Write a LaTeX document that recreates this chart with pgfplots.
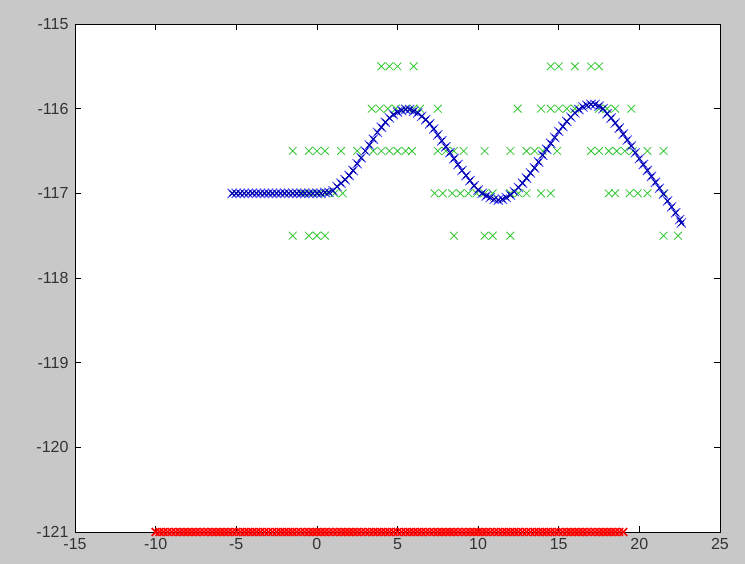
\documentclass[border=0pt]{standalone}
\usepackage{pgfplots}
\pgfplotsset{compat=1.18}
\usepackage{pgfplotstable}
\usepackage{fontspec}
\setmainfont{Liberation Sans}
\usetikzlibrary{backgrounds}
\definecolor{figgray}{RGB}{200,200,200}
\definecolor{mgreen}{RGB}{50,200,50}
\definecolor{lblue}{RGB}{80,80,255}
\definecolor{dblue}{RGB}{0,0,170}

\pgfplotstableread{
x y
-5.25 -117.0
-5.0 -117.0
-4.75 -117.0
-4.5 -117.0
-4.25 -117.0
-4.0 -117.0
-3.75 -117.0
-3.5 -117.0
-3.25 -117.0
-3.0 -117.0
-2.75 -117.0
-2.5 -117.0
-2.25 -117.0
-2.0 -117.0
-1.75 -117.0
-1.5 -117.0
-1.25 -117.0
-1.0 -117.0
-0.75 -117.0
-0.5 -117.0
-0.25 -117.0
0.0 -117.0
0.25 -117.0
0.5 -116.99
0.75 -116.99
1.0 -116.97
1.25 -116.92
1.5 -116.88
1.75 -116.84
2.0 -116.79
2.25 -116.73
2.5 -116.65
2.75 -116.58
3.0 -116.50
3.25 -116.43
3.5 -116.36
3.75 -116.28
4.0 -116.22
4.25 -116.16
4.5 -116.11
4.75 -116.07
5.0 -116.04
5.25 -116.02
5.5 -116.01
5.75 -116.01
6.0 -116.03
6.25 -116.05
6.5 -116.09
6.75 -116.13
7.0 -116.18
7.25 -116.24
7.5 -116.31
7.75 -116.38
8.0 -116.45
8.25 -116.52
8.5 -116.59
8.75 -116.66
9.0 -116.73
9.25 -116.79
9.5 -116.85
9.75 -116.91
10.0 -116.96
10.25 -117.0
10.5 -117.03
10.75 -117.05
11.0 -117.07
11.25 -117.08
11.5 -117.07
11.75 -117.05
12.0 -117.02
12.25 -116.98
12.5 -116.93
12.75 -116.88
13.0 -116.82
13.25 -116.76
13.5 -116.70
13.75 -116.63
14.0 -116.55
14.25 -116.48
14.5 -116.41
14.75 -116.34
15.0 -116.27
15.25 -116.21
15.5 -116.15
15.75 -116.10
16.0 -116.05
16.25 -116.01
16.5 -115.98
16.75 -115.96
17.0 -115.95
17.25 -115.95
17.5 -115.97
17.75 -116.0
18.0 -116.06
18.25 -116.11
18.5 -116.17
18.75 -116.23
19.0 -116.30
19.25 -116.37
19.5 -116.44
19.75 -116.52
20.0 -116.59
20.25 -116.66
20.5 -116.73
20.75 -116.80
21.0 -116.87
21.25 -116.94
21.5 -117.01
21.75 -117.09
22.0 -117.16
22.25 -117.23
22.5 -117.31
22.6 -117.35
}\bluecurve

\pgfplotstableread{
x y
4.0 -115.5
4.5 -115.5
5.0 -115.5
6.0 -115.5
14.5 -115.5
15.0 -115.5
16.0 -115.5
17.0 -115.5
17.5 -115.5
3.4 -116
3.9 -116
4.4 -116
4.9 -116
5.5 -116
6.0 -116
6.4 -116
7.5 -116
12.45 -116
13.9 -116
14.5 -116
15.0 -116
15.5 -116
16.0 -116
17.5 -116
18.0 -116
18.5 -116
19.5 -116
-1.5 -116.5
-0.5 -116.5
0.0 -116.5
0.5 -116.5
1.5 -116.5
2.5 -116.5
3.5 -116.5
4.0 -116.5
4.5 -116.5
5.0 -116.5
5.5 -116.5
5.9 -116.5
7.5 -116.5
8.0 -116.5
8.5 -116.5
9.1 -116.5
10.4 -116.5
12.0 -116.5
13.0 -116.5
13.5 -116.5
14.0 -116.5
14.9 -116.5
17.0 -116.5
17.5 -116.5
18.1 -116.5
18.6 -116.5
19.1 -116.5
19.6 -116.5
20.5 -116.5
21.5 -116.5
-2.0 -117
-1.5 -117
-0.9 -117
-0.4 -117
0.1 -117
0.6 -117
1.1 -117
1.6 -117
7.3 -117
7.8 -117
8.4 -117
8.9 -117
9.4 -117
9.9 -117
10.4 -117
10.9 -117
12.0 -117
12.5 -117
13.0 -117
13.9 -117
14.5 -117
18.1 -117
18.5 -117
19.4 -117
19.9 -117
20.5 -117
21.5 -117
-1.5 -117.5
-0.5 -117.5
0.0 -117.5
0.5 -117.5
8.5 -117.5
10.4 -117.5
10.9 -117.5
12.0 -117.5
21.5 -117.5
22.4 -117.5
}\greenpts

\pgfplotstableread{
x y
-10.0 -121
-9.75 -121
-9.5 -121
-9.25 -121
-9.0 -121
-8.75 -121
-8.5 -121
-8.25 -121
-8.0 -121
-7.75 -121
-7.5 -121
-7.25 -121
-7.0 -121
-6.75 -121
-6.5 -121
-6.25 -121
-6.0 -121
-5.75 -121
-5.5 -121
-5.25 -121
-5.0 -121
-4.75 -121
-4.5 -121
-4.25 -121
-4.0 -121
-3.75 -121
-3.5 -121
-3.25 -121
-3.0 -121
-2.75 -121
-2.5 -121
-2.25 -121
-2.0 -121
-1.75 -121
-1.5 -121
-1.25 -121
-1.0 -121
-0.75 -121
-0.5 -121
-0.25 -121
0.0 -121
0.25 -121
0.5 -121
0.75 -121
1.0 -121
1.25 -121
1.5 -121
1.75 -121
2.0 -121
2.25 -121
2.5 -121
2.75 -121
3.0 -121
3.25 -121
3.5 -121
3.75 -121
4.0 -121
4.25 -121
4.5 -121
4.75 -121
5.0 -121
5.25 -121
5.5 -121
5.75 -121
6.0 -121
6.25 -121
6.5 -121
6.75 -121
7.0 -121
7.25 -121
7.5 -121
7.75 -121
8.0 -121
8.25 -121
8.5 -121
8.75 -121
9.0 -121
9.25 -121
9.5 -121
9.75 -121
10.0 -121
10.25 -121
10.5 -121
10.75 -121
11.0 -121
11.25 -121
11.5 -121
11.75 -121
12.0 -121
12.25 -121
12.5 -121
12.75 -121
13.0 -121
13.25 -121
13.5 -121
13.75 -121
14.0 -121
14.25 -121
14.5 -121
14.75 -121
15.0 -121
15.25 -121
15.5 -121
15.75 -121
16.0 -121
16.25 -121
16.5 -121
16.75 -121
17.0 -121
17.25 -121
17.5 -121
17.75 -121
18.0 -121
18.25 -121
18.5 -121
18.75 -121
19.0 -121
}\redpts

\begin{document}
\begin{tikzpicture}
\begin{axis}[
  scale only axis,
  width=645pt, height=508pt,
  xmin=-15, xmax=25, ymin=-121, ymax=-115,
  xtick={-15,-10,-5,0,5,10,15,20,25},
  ytick={-121,-120,-119,-118,-117,-116,-115},
  tick align=inside,
  major tick length=6pt,
  tick style={black, line width=0.6pt},
  axis line style={black, line width=0.8pt},
  clip=false,
  axis background/.style={fill=white},
  ticklabel style={font=\fontsize{16}{18}\selectfont, text=black!80},
  /pgf/number format/assume math mode=true,
  yticklabel style={xshift=-3pt},
  xticklabel style={yshift=-3pt},
]
\addplot[only marks, mark=x, mark size=5.5pt, mgreen, line width=0.8pt] table[x=x,y=y] {\greenpts};
\addplot[only marks, mark=x, mark size=6.5pt, lblue, line width=1pt] table[x=x,y=y] {\bluecurve};
\addplot[only marks, mark=x, mark size=4pt, dblue, line width=1pt] table[x=x,y=y] {\bluecurve};
\addplot[only marks, mark=x, mark size=5.5pt, red, line width=1.7pt] table[x=x,y=y] {\redpts};
\end{axis}
\begin{scope}[on background layer]
\fill[figgray] (-75pt,-32pt) rectangle (670pt,532pt);
\end{scope}
\end{tikzpicture}
\end{document}
